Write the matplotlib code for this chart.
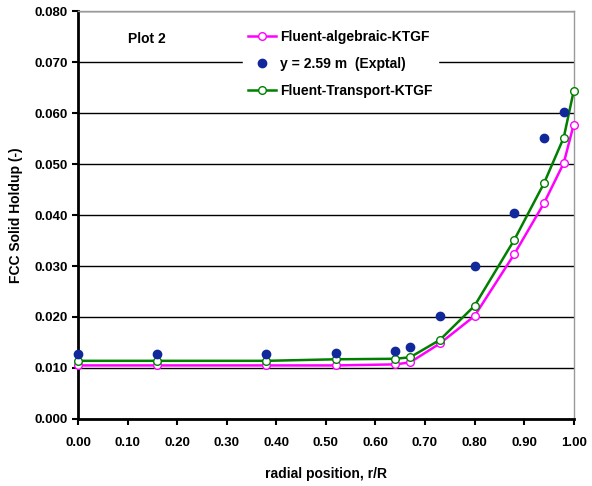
import numpy as np
import matplotlib
matplotlib.use("Agg")
import matplotlib.pyplot as plt

plt.rcParams['font.family'] = ['Liberation Sans', 'DejaVu Sans']
plt.rcParams['font.weight'] = 'bold'

# model radial positions
r_model = [0.00, 0.16, 0.38, 0.52, 0.64, 0.67, 0.73, 0.80, 0.88, 0.94, 0.98, 1.00]
algebraic = [0.0105, 0.0105, 0.0105, 0.0105, 0.0107, 0.0111, 0.0148, 0.0202, 0.0323, 0.0423, 0.0502, 0.0577]
transport = [0.0114, 0.0114, 0.0114, 0.0117, 0.0118, 0.0121, 0.0155, 0.0222, 0.0351, 0.0462, 0.0552, 0.0643]

# experimental
r_exp = [0.00, 0.16, 0.38, 0.52, 0.64, 0.67, 0.73, 0.80, 0.88, 0.94, 0.98]
exptal = [0.0127, 0.0127, 0.0127, 0.0130, 0.0133, 0.0141, 0.0202, 0.0301, 0.0404, 0.0552, 0.0602]

fig = plt.figure(figsize=(5.92, 4.86), dpi=100)
ax = fig.add_axes([0.132, 0.138, 0.837, 0.839])

ax.plot(r_model, algebraic, color='#FF00FF', lw=1.8, marker='o', ms=5.5,
        mfc='white', mec='#FF00FF', mew=1.0, label='Fluent-algebraic-KTGF',
        zorder=3, clip_on=False)
ax.plot(r_exp, exptal, ls='none', marker='o', ms=6, color='#10289A',
        label='y = 2.59 m  (Exptal)', zorder=4, clip_on=False)
ax.plot(r_model, transport, color='#007F00', lw=1.8, marker='o', ms=5.5,
        mfc='white', mec='#007F00', mew=1.0, label='Fluent-Transport-KTGF',
        zorder=3, clip_on=False)

ax.set_xlim(0, 1.0)
ax.set_ylim(0, 0.080)
ax.set_xticks(np.arange(0, 1.01, 0.1))
ax.set_yticks(np.arange(0, 0.0801, 0.01))
ax.set_xticklabels(['%.2f' % v for v in np.arange(0, 1.01, 0.1)])
ax.set_yticklabels(['%.3f' % v for v in np.arange(0, 0.0801, 0.01)])
ax.tick_params(labelsize=9.5, width=1.5, length=4, direction='out')
ax.tick_params(axis='x', pad=9)
ax.yaxis.grid(True, color='black', lw=1.0)
ax.set_axisbelow(True)

for s in ['left', 'bottom']:
    ax.spines[s].set_linewidth(2)
    ax.spines[s].set_color('black')
for s in ['top', 'right']:
    ax.spines[s].set_linewidth(1)
    ax.spines[s].set_color('#999999')

ax.set_xlabel('radial position, r/R', fontsize=10, fontweight='bold', labelpad=13)
ax.set_ylabel('FCC Solid Holdup (-)', fontsize=10, fontweight='bold', labelpad=8)

ax.text(0.1, 0.0745, 'Plot 2', fontsize=10, fontweight='bold', ha='left', va='center')

leg = ax.legend(loc='upper left', bbox_to_anchor=(0.318, 0.985), fontsize=10,
                frameon=True, fancybox=False, edgecolor='white', framealpha=1,
                handlelength=2.0, handletextpad=0.3, borderpad=0.4, labelspacing=0.95)
for t in leg.get_texts():
    t.set_fontweight('bold')

fig.savefig('out.png', dpi=100)
